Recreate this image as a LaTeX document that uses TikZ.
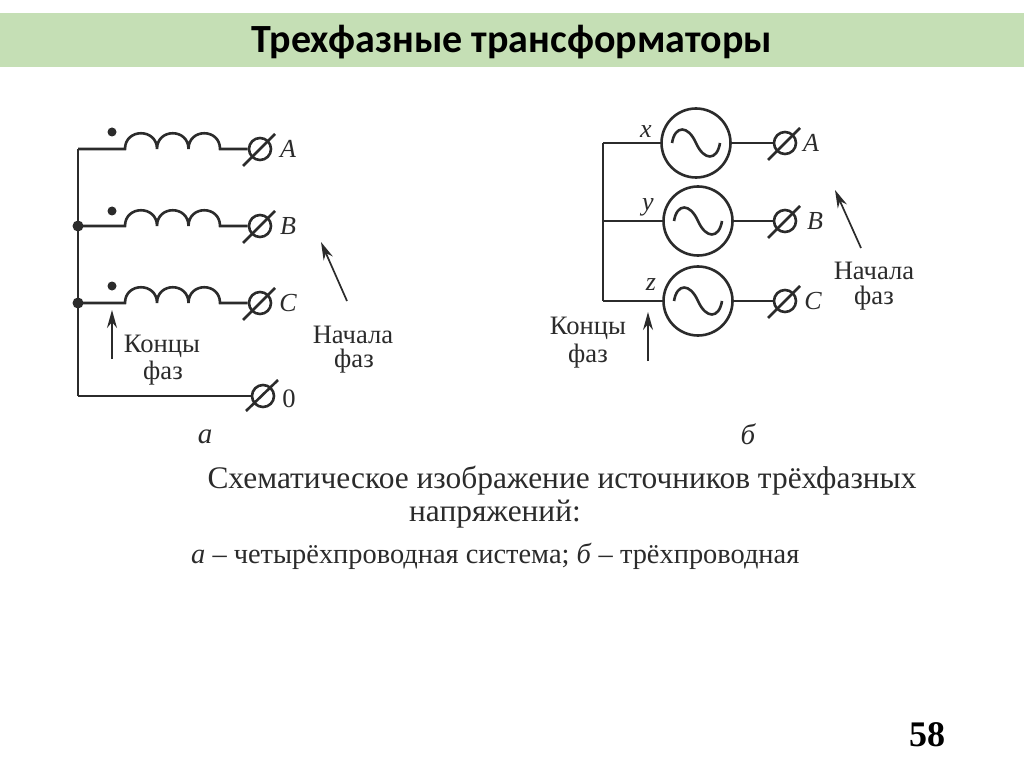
\documentclass[tikz,border=0pt]{standalone}
\usepackage{fontspec}
\setmainfont{Liberation Serif}
\newfontfamily\titlefont{Carlito}
\usetikzlibrary{arrows.meta,calc}
\definecolor{titlegreen}{HTML}{C5DFB5}
\definecolor{inkgray}{HTML}{2B2B2B}
\tikzset{
	wire/.style={line width=2.6pt, draw=inkgray},
	term/.style={circle, draw=inkgray, line width=2.6pt, minimum size=22pt, inner sep=0pt},
	gen/.style={circle, draw=inkgray, line width=2.6pt, minimum size=69pt, inner sep=0pt},
	joint/.style={circle, fill=inkgray, minimum size=11pt, inner sep=0pt},
	markdot/.style={circle, fill=inkgray, minimum size=9pt, inner sep=0pt},
	lbl/.style={font=\fontsize{26.6}{27}\selectfont, text=inkgray, inner sep=0pt, yshift=-1.5pt},
	letter/.style={font=\fontsize{26}{26}\selectfont\itshape, text=inkgray, inner sep=0pt},
	pointer/.style={line width=1.7pt, draw=inkgray, -{Stealth[length=18pt, width=10pt]}},
}
\begin{document}
\begin{tikzpicture}[x=1pt, y=-1pt]
\useasboundingbox (0,0) rectangle (1024,767);
\fill [white] (0,0) rectangle (1024,767);
\fill [titlegreen] (0,13) rectangle (1024,67);
\node (title) at (512,42) {\titlefont\bfseries\fontsize{40}{40}\selectfont Трехфазные трансформаторы};

% left scheme
\coordinate (bus a) at (78,149);
\coordinate (bus b) at (78,226);
\coordinate (bus c) at (78,303);
\coordinate (bus n) at (78,396);
\draw [wire] (bus a) -- (bus n);
\foreach \name/\yy/\lab/\doty in {a/149/A/132, b/226/B/211, c/303/C/286} {
	\node [term] (term \name) at (260,\yy) {};
	\node [markdot] (dot \name) at (112,\doty) {};
	\node [letter] (lab \name) at (288,\yy) {\lab};
	\coordinate (coil \name) at (125,\yy);
	\coordinate (coil end \name) at (220,\yy);
	\draw [wire] (bus \name) -- (coil \name)
		.. controls +(0,-21) and +(0,-21) .. ++(32,0)
		.. controls +(0,-21) and +(0,-21) .. ++(31.5,0)
		.. controls +(0,-21) and +(0,-21) .. (coil end \name)
		-- (term \name);
	\draw [wire] ($(term \name)+(-17,17)$) -- ($(term \name)+(15,-15)$);
}
\node [joint] (joint b) at (bus b) {};
\node [joint] (joint c) at (bus c) {};
\node [term] (term n) at (263,396) {};
\draw [wire] (bus n) -- (term n);
\draw [wire] ($(term n)+(-17,15)$) -- ($(term n)+(15,-16)$);
\node [lbl] (lab n) at (289,397) {0};

\coordinate (kon a) at (112,359);
\coordinate (kon a tip) at (112,310);
\draw [pointer] (kon a) -- (kon a tip);
\node [lbl] (kontsy a) at (162,345) {Концы};
\node [lbl] (faz a) at (163,372) {фаз};
\coordinate (nach a) at (347,301);
\coordinate (nach a tip) at (321,242);
\draw [pointer] (nach a) -- (nach a tip);
\node [lbl] (nachala a) at (353,333) {Начала};
\node [lbl] (fazn a) at (354,360) {фаз};
\node [letter, font=\fontsize{29}{29}\selectfont\itshape] (cap a) at (205,437) {а};

% right scheme
\coordinate (rail x) at (603,143);
\coordinate (rail y) at (603,221);
\coordinate (rail z) at (603,301);
\draw [wire] (rail x) -- (rail z);
\foreach \name/\yy/\gx/\lab/\labx/\nx/\ny in {x/143/696/A/811/646/132, y/221/698/B/815/648/207, z/301/698/C/813/651/285} {
	\node [gen] (gen \name) at (\gx,\yy) {};
	\node [term] (gterm \name) at (785,\yy) {};
	\node [letter] (glab \name) at (\labx,\yy) {\lab};
	\node [letter] (end \name) at (\nx,\ny) {\name};
	\draw [wire] (rail \name) -- (gen \name);
	\draw [wire] (gen \name) -- (gterm \name);
	\draw [wire] ($(gterm \name)+(-17,17)$) -- ($(gterm \name)+(15,-15)$);
	\draw [wire] ($(gen \name)+(-24,0)$)
		.. controls +(3,-18) and +(-8,-18) .. (gen \name.center)
		.. controls +(8,18) and +(-3,18) .. ($(gen \name)+(24,0)$);
}
\coordinate (kon b) at (648,361);
\coordinate (kon b tip) at (648,312);
\draw [pointer] (kon b) -- (kon b tip);
\node [lbl] (kontsy b) at (588,327) {Концы};
\node [lbl] (faz b) at (588,355) {фаз};
\coordinate (nach b) at (861,248);
\coordinate (nach b tip) at (835,190);
\draw [pointer] (nach b) -- (nach b tip);
\node [lbl] (nachala b) at (874,269) {Начала};
\node [lbl] (fazn b) at (874,297) {фаз};
\node [letter, font=\fontsize{29}{29}\selectfont\itshape] (cap b) at (748,434) {б};

% caption
\node [lbl, font=\fontsize{31.4}{32}\selectfont] (cap one) at (562,479) {Схематическое изображение источников трёхфазных};
\node [lbl, font=\fontsize{31.4}{32}\selectfont] (cap two) at (495,513) {напряжений:};
\node [lbl, anchor=west, font=\fontsize{28.4}{29}\selectfont] (cap three) at (191,555) {\textit{а} – четырёхпроводная система; \textit{б} – трёхпроводная};

\node (page) at (927,735) {\bfseries\fontsize{36}{36}\selectfont 58};
\end{tikzpicture}
\end{document}
